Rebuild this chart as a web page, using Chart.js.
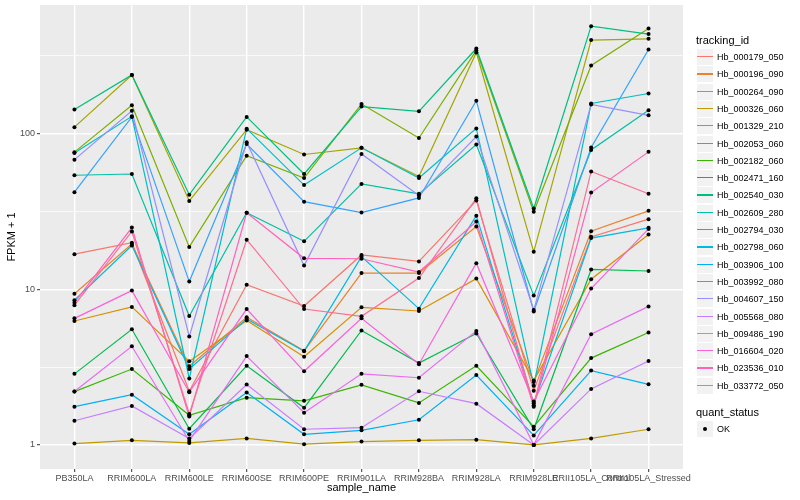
<!DOCTYPE html>
<html><head><meta charset="utf-8">
<script src="https://cdn.jsdelivr.net/npm/chart.js@4/dist/chart.umd.min.js"></script>
<style>
html,body{margin:0;padding:0;background:#fff;}
#wrap{position:relative;width:800px;height:500px;font-family:"Liberation Sans",Arial,Helvetica,sans-serif;overflow:hidden;}
#c{position:absolute;left:0;top:0;}
#legend{position:absolute;left:697px;top:0;width:103px;height:500px;}
.lt{position:absolute;left:-1px;font-size:11px;color:#000;white-space:nowrap;line-height:12px;}
.row{position:absolute;left:0;height:16px;width:103px;}
.key{position:absolute;left:0;top:0;width:16px;height:16px;background:#F2F2F2;}
.key i{position:absolute;left:0;width:16px;top:7px;height:1.3px;}
.key b{position:absolute;left:6px;top:6px;width:4px;height:4px;border-radius:2px;background:#000;}
.lab{position:absolute;left:20px;top:0;line-height:16px;font-size:9px;color:#000;white-space:nowrap;}
</style></head>
<body>
<div id="wrap">
<canvas id="c" width="800" height="500"></canvas>
<div id="legend"></div>
</div>
<script>
const categories = ["PB350LA","RRIM600LA","RRIM600LE","RRIM600SE","RRIM600PE","RRIM901LA","RRIM928BA","RRIM928LA","RRIM928LE","RRII105LA_Control","RRII105LA_Stressed"];

const seriesNames = ["Hb_000179_050","Hb_000196_090","Hb_000264_090","Hb_000326_060","Hb_001329_210","Hb_002053_060","Hb_002182_060","Hb_002471_160","Hb_002540_030","Hb_002609_280","Hb_002794_030","Hb_002798_060","Hb_003906_100","Hb_003992_080","Hb_004607_150","Hb_005568_080","Hb_009486_190","Hb_016604_020","Hb_023536_010","Hb_033772_050"];

const seriesColors = ["#F8766D","#EA8331","#D89000","#C09B00","#A3A500","#7CAE00","#39B600","#00BB4E","#00BF7D","#00C1A3","#00BFC4","#00BAE0","#00B0F6","#35A2FF","#9590FF","#C77CFF","#E76BF3","#FA62DB","#FF62BC","#FF6C91"];

// FPKM + 1 values, one value per sample (categories order)
const hb000179 = [16.8, 19.9, 2.21, 10.7, 7.8, 16.6, 15.1, 37.1, 2.23, 21.7, 28.2];
const hb000196 = [9.36, 19.5, 3.2, 6.6, 4.02, 12.7, 12.7, 25.3, 2.54, 23.6, 31.9];
const hb000264 = [6.25, 7.7, 3.44, 6.3, 3.68, 7.65, 7.25, 11.7, 2.59, 11.6, 22.5];
const hb000326 = [1.02, 1.07, 1.03, 1.10, 1.01, 1.05, 1.07, 1.08, 1.0, 1.10, 1.26];
const hb001329 = [110, 238, 36.9, 106, 73.4, 81, 53, 332, 17.4, 399, 406];
const hb002053 = [76, 152, 18.7, 72, 51.8, 155, 93.7, 342, 31.5, 274, 473];
const hb002182 = [2.2, 3.07, 1.55, 2.01, 1.92, 2.43, 1.86, 3.22, 1.31, 3.61, 5.27];
const hb002471 = [2.86, 5.53, 1.27, 3.22, 1.73, 5.43, 3.36, 5.2, 1.26, 13.4, 13.1];
const hb002540 = [143, 238, 40.5, 128, 55, 149, 139, 352, 33, 490, 436];
const hb002609 = [54, 55, 6.73, 31, 20.3, 47.5, 41, 85, 9.1, 78.5, 141];
const hb002794 = [75, 129, 2.67, 107.5, 46.7, 81, 51.8, 108, 2.4, 156, 181];
const hb002798 = [8.5, 19.1, 3.07, 6.45, 4.0, 16.2, 7.5, 29.7, 1.85, 21.3, 24.8];
const hb003906 = [1.76, 2.1, 1.17, 2.17, 1.17, 1.24, 1.45, 2.81, 1.15, 3.0, 2.45];
const hb003992 = [42, 128, 11.2, 85.6, 36.5, 31.1, 38.6, 162.6, 7.2, 81.4, 347];
const hb004607 = [68, 140, 4.97, 88, 14.2, 74, 40, 95.7, 7.35, 154, 131];
const hb005568 = [1.43, 1.78, 1.1, 2.44, 1.26, 1.29, 2.21, 1.84, 1.0, 2.29, 3.46];
const hb009486 = [2.2, 4.3, 1.06, 3.72, 1.61, 2.86, 2.7, 5.4, 1.0, 5.14, 7.76];
const hb016604 = [6.5, 9.8, 2.18, 7.46, 2.97, 6.5, 3.3, 14.7, 1.9, 10.1, 24.4];
const hb023536 = [8.2, 24.9, 1.52, 31, 15.8, 15.7, 12.9, 27.2, 1.76, 41.8, 76.3];
const hb033772 = [7.9, 23.5, 1.58, 20.8, 7.46, 6.7, 11.8, 38.4, 1.8, 57.1, 41.1];

const seriesValues = [hb000179,hb000196,hb000264,hb000326,hb001329,hb002053,hb002182,hb002471,hb002540,hb002609,hb002794,hb002798,hb003906,hb003992,hb004607,hb005568,hb009486,hb016604,hb023536,hb033772];

const statusLabels = ["OK"];
const yTickValues = [1, 10, 100];
const yMinorValues = [Math.sqrt(10), Math.sqrt(1000), Math.sqrt(100000)];
const yMin = 0.727, yMax = 670;

const FONT = '"Liberation Sans", Arial, Helvetica, sans-serif';

const lineSets = seriesNames.map((name, i) => ({
  label: name,
  data: seriesValues[i].map((v, j) => ({x: j, y: v})),
  borderColor: seriesColors[i],
  backgroundColor: seriesColors[i],
  borderWidth: 1.2,
  pointRadius: 0,
  pointHoverRadius: 0,
  fill: false,
  tension: 0,
  order: seriesNames.length - i + 1
}));
const pointSet = {
  label: statusLabels[0],
  data: seriesValues.flatMap(vals => vals.map((v, j) => ({x: j, y: v}))),
  showLine: false,
  pointRadius: 2,
  pointHoverRadius: 2,
  pointBackgroundColor: '#000',
  pointBorderColor: '#000',
  pointBorderWidth: 0,
  order: 0
};

const panelBg = {
  id: 'panelBg',
  beforeDraw(chart) {
    const {ctx, chartArea: a} = chart;
    ctx.save();
    ctx.fillStyle = '#fff';
    ctx.fillRect(0, 0, chart.width, chart.height);
    ctx.fillStyle = '#EBEBEB';
    ctx.fillRect(a.left, a.top, a.right - a.left, a.bottom - a.top);
    ctx.restore();
  }
};

// pin the panel to the reference's panel box
const PANEL = {left: 40, right: 683, top: 5, bottom: 469};
const forceArea = {
  id: 'forceArea',
  afterLayout(chart) {
    const a = chart.chartArea, P = PANEL;
    a.left = P.left; a.right = P.right; a.top = P.top; a.bottom = P.bottom;
    a.width = P.right - P.left; a.height = P.bottom - P.top;
    const x = chart.scales.x, y = chart.scales.y;
    y.top = P.top; y.bottom = P.bottom; y.height = P.bottom - P.top;
    y.left = 0; y.right = P.left; y.width = P.left;
    x.left = P.left; x.right = P.right; x.width = P.right - P.left;
    x.top = P.bottom; x.bottom = chart.height; x.height = chart.height - P.bottom;
    x.configure(); y.configure();
  }
};

const isMajorY = v => yTickValues.some(t => Math.abs(t - v) < 1e-9);

new Chart(document.getElementById('c'), {
  type: 'line',
  data: {datasets: [pointSet, ...lineSets]},
  plugins: [panelBg, forceArea],
  options: {
    responsive: false,
    animation: false,
    events: [],
    layout: {padding: {top: 5, right: 117, left: 0, bottom: 0}},
    plugins: {legend: {display: false}, tooltip: {enabled: false}},
    scales: {
      x: {
        type: 'linear', min: -0.6, max: 10.6,
        afterBuildTicks: s => { s.ticks = categories.map((c, i) => ({value: i})); },
        afterFit: s => { s.height = 31; },
        ticks: {autoSkip: false, maxRotation: 0, minRotation: 0, padding: 1, color: '#4D4D4D',
          font: {family: FONT, size: 9}, callback: v => categories[v] !== undefined ? categories[v] : ''},
        grid: {color: '#fff', lineWidth: 1.4, drawTicks: true, tickLength: 3, tickColor: '#333', tickWidth: 1},
        border: {display: false},
        title: {display: true, text: 'sample_name', color: '#000', font: {family: FONT, size: 11}, padding: {top: 0, bottom: 5}}
      },
      y: {
        type: 'logarithmic', min: yMin, max: yMax,
        afterBuildTicks: s => {
          s.ticks = [...yTickValues, ...yMinorValues].sort((a, b) => a - b).map(v => ({value: v}));
        },
        afterFit: s => { s.width = 40; },
        ticks: {autoSkip: false, padding: 2, color: '#4D4D4D', font: {family: FONT, size: 9},
          callback: v => isMajorY(v) ? String(v) : ''},
        grid: {
          color: '#fff',
          lineWidth: c => (c.tick && isMajorY(c.tick.value)) ? 1.4 : 0.7,
          drawTicks: true, tickLength: 3,
          tickColor: c => (c.tick && isMajorY(c.tick.value)) ? '#333' : 'rgba(0,0,0,0)',
          tickWidth: 1
        },
        border: {display: false},
        title: {display: true, text: 'FPKM + 1', color: '#000', font: {family: FONT, size: 11}, padding: {top: 5, bottom: 0}}
      }
    }
  }
});

// legend (ggplot style)
const leg = document.getElementById('legend');
function add(html) { leg.insertAdjacentHTML('beforeend', html); }
add('<div class="lt" style="top:34px">tracking_id</div>');
seriesNames.forEach((n, i) => {
  const top = 49 + 17.3 * i;
  add('<div class="row" style="top:' + top.toFixed(1) + 'px"><div class="key"><i style="background:' + seriesColors[i] + '"></i></div><div class="lab">' + n + '</div></div>');
});
add('<div class="lt" style="top:406px">quant_status</div>');
statusLabels.forEach((s, i) => {
  add('<div class="row" style="top:' + (421 + 17.3 * i) + 'px"><div class="key"><b></b></div><div class="lab">' + s + '</div></div>');
});
</script>
</body></html>
